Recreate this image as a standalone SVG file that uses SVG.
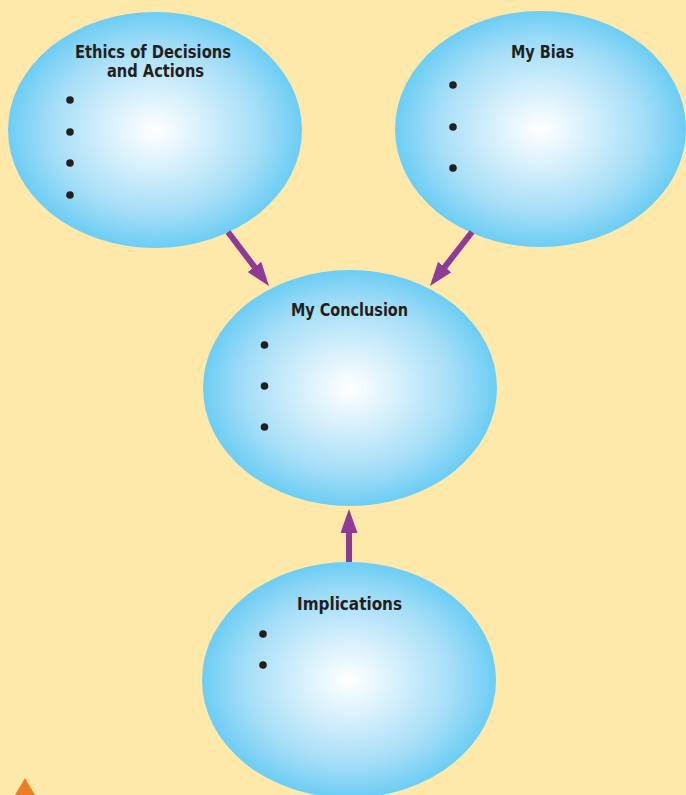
<svg xmlns="http://www.w3.org/2000/svg" width="686" height="795" viewBox="0 0 686 795">
  <defs>
    <radialGradient id="bubble" cx="50%" cy="50%" r="50%">
      <stop offset="0" stop-color="#ffffff"/>
      <stop offset="0.3" stop-color="#daf1fc"/>
      <stop offset="0.7" stop-color="#a6def7"/>
      <stop offset="1" stop-color="#6ccdf4"/>
    </radialGradient>
    <marker id="head" markerUnits="userSpaceOnUse" viewBox="0 0 24 17" refX="2" refY="8.5" markerWidth="24" markerHeight="17" orient="auto">
      <path d="M0,0 L24,8.5 L0,17 Z" fill="#8e3b97"/>
    </marker>
  </defs>
  <style>
    .node ellipse { fill: url(#bubble); }
    .title { font-family: "DejaVu Sans Condensed", "DejaVu Sans", "Liberation Sans", sans-serif; font-weight: bold; font-size: 18px; fill: #231f20; text-anchor: middle; }
    .dot { fill: #231f20; }
    .conn line { stroke: #8e3b97; stroke-width: 6; fill: none; marker-end: url(#head); }
  </style>
  <rect x="0" y="0" width="686" height="795" fill="#fee9aa"/>

  <g id="node-ethics" class="node">
    <ellipse cx="155" cy="130" rx="147" ry="118"/>
    <text class="title" x="153" y="58" textLength="156" lengthAdjust="spacingAndGlyphs">Ethics of Decisions</text>
    <text class="title" x="155.5" y="77" textLength="97" lengthAdjust="spacingAndGlyphs">and Actions</text>
    <circle class="dot" cx="70" cy="100" r="3.8"/>
    <circle class="dot" cx="70" cy="132" r="3.8"/>
    <circle class="dot" cx="70" cy="163" r="3.8"/>
    <circle class="dot" cx="70" cy="195" r="3.8"/>
  </g>

  <g id="node-bias" class="node">
    <ellipse cx="540.5" cy="129" rx="145.5" ry="118"/>
    <text class="title" x="542.5" y="58" textLength="63" lengthAdjust="spacingAndGlyphs">My Bias</text>
    <circle class="dot" cx="453" cy="85" r="3.8"/>
    <circle class="dot" cx="453" cy="127" r="3.8"/>
    <circle class="dot" cx="453" cy="168" r="3.8"/>
  </g>

  <g id="node-conclusion" class="node">
    <ellipse cx="350" cy="388" rx="147" ry="118"/>
    <text class="title" x="349.5" y="316" textLength="117" lengthAdjust="spacingAndGlyphs">My Conclusion</text>
    <circle class="dot" cx="264.5" cy="345" r="3.8"/>
    <circle class="dot" cx="264.5" cy="386" r="3.8"/>
    <circle class="dot" cx="264.5" cy="427" r="3.8"/>
  </g>

  <g id="node-implications" class="node">
    <ellipse cx="349" cy="680" rx="147" ry="118"/>
    <text class="title" x="349.5" y="610" textLength="105" lengthAdjust="spacingAndGlyphs">Implications</text>
    <circle class="dot" cx="263" cy="634" r="3.8"/>
    <circle class="dot" cx="263" cy="665" r="3.8"/>
  </g>

  <g id="connectors" class="conn">
    <line x1="228" y1="232" x2="255.7" y2="268.5"/>
    <line x1="472" y1="232" x2="443.5" y2="268.6"/>
    <line x1="349" y1="562" x2="349" y2="531"/>
  </g>

  <polygon points="25,778 15,795 35,795" fill="#e98024"/>
</svg>
